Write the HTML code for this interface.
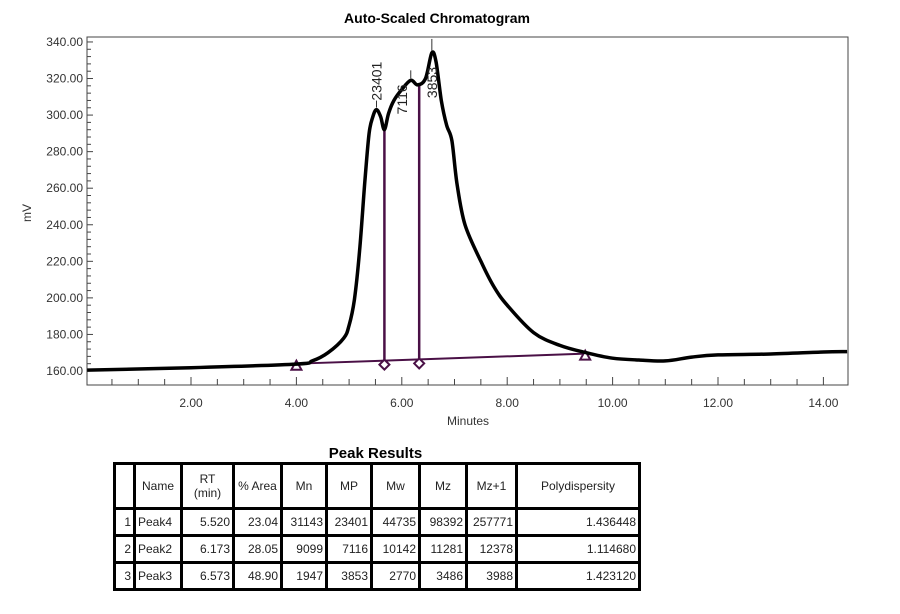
<!DOCTYPE html>
<html><head><meta charset="utf-8"><style>
body{margin:0;background:#fff;width:900px;height:614px;overflow:hidden;position:relative;font-family:"Liberation Sans",sans-serif}
svg{position:absolute;left:0;top:0}
#tbl-title{position:absolute;left:113px;width:525px;top:445px;text-align:center;font-weight:bold;font-size:15px}
table{position:absolute;left:113px;top:462px;width:525px;border-collapse:collapse;font-size:12px;table-layout:fixed}
td{border:3px solid #000;padding:0 2px;text-align:right;color:#222;white-space:nowrap;overflow:hidden}
tr.h td{text-align:center;height:42px;white-space:normal}
tr.r td{height:24px}
</style></head><body>
<svg width="900" height="614">
<text x="437" y="23" text-anchor="middle" font-weight="bold" font-size="14">Auto-Scaled Chromatogram</text>
<rect x="87" y="37" width="761" height="348" fill="none" stroke="#444" stroke-width="1"/>
<g id="axes"></g>
<g id="marks"></g>
<text x="468" y="425" text-anchor="middle" font-size="12" fill="#333">Minutes</text>
<text transform="translate(31,213) rotate(-90)" text-anchor="middle" font-size="12" fill="#333">mV</text>
</svg>
<div id="tbl-title">Peak Results</div>
<table>
<colgroup><col style="width:20px"><col style="width:47px"><col style="width:52px"><col style="width:48px"><col style="width:45px"><col style="width:45px"><col style="width:48px"><col style="width:47px"><col style="width:50px"><col style="width:123px"></colgroup>
<tr class="h"><td></td><td>Name</td><td>RT<br>(min)</td><td style="white-space:nowrap">% Area</td><td>Mn</td><td>MP</td><td>Mw</td><td>Mz</td><td>Mz+1</td><td>Polydispersity</td></tr>
<tr class="r"><td>1</td><td style="text-align:left">Peak4</td><td>5.520</td><td>23.04</td><td>31143</td><td>23401</td><td>44735</td><td>98392</td><td>257771</td><td>1.436448</td></tr>
<tr class="r"><td>2</td><td style="text-align:left">Peak2</td><td>6.173</td><td>28.05</td><td>9099</td><td>7116</td><td>10142</td><td>11281</td><td>12378</td><td>1.114680</td></tr>
<tr class="r" style="height:27px"><td>3</td><td style="text-align:left">Peak3</td><td>6.573</td><td>48.90</td><td>1947</td><td>3853</td><td>2770</td><td>3486</td><td>3988</td><td>1.423120</td></tr>
</table>
<script>
const times=[0.03,2,4.0,4.3,4.6,4.9,5.0,5.1,5.2,5.3,5.38,5.45,5.52,5.6,5.67,5.75,5.85,6.0,6.17,6.3,6.45,6.57,6.65,6.75,6.85,6.95,7.05,7.2,7.5,7.75,8.0,8.5,9.0,9.5,10.0,10.5,11.0,11.5,12.0,13.0,14.0,14.45];
const signal=[160.5,161.8,163.8,165.5,170,178,185,199,226,264,290,299,303,299,292,301,308,314,319,316.5,320,334,329,308,294.5,286,262,240,220,206,196,181,174,170,167,166,165.5,167.6,168.8,169.3,170.4,170.6];
const baseline=[[4.0,164],[9.48,169.5]];
const dropTimes=[5.67,6.33];
const dropTops=[292,316.5];
const peakRT=[5.52,6.17,6.57];
const peakTop=[303,319,334];
const peakLabels=["23401","7116","3853"];
const yTicks=[160,180,200,220,240,260,280,300,320,340];
const xTicks=[2,4,6,8,10,12,14];
const X=t=>85.6+t*52.7, Y=v=>371-(v-160)*1.828;
const NS="http://www.w3.org/2000/svg";
function mk(tag,attrs,parent){const e=document.createElementNS(NS,tag);for(const k in attrs)e.setAttribute(k,attrs[k]);parent.appendChild(e);return e;}
const ax=document.getElementById('axes'), mg=document.getElementById('marks');
for(let v=160;v<=340;v+=4){const l=mk('line',{x1:87,x2:v%20==0?93:91,y1:Y(v),y2:Y(v),stroke:'#444'},ax);

}
yTicks.forEach(v=>{const t=mk('text',{x:83,y:Y(v)+4,'text-anchor':'end','font-size':12,fill:'#333'},ax);t.textContent=v.toFixed(2);

});
for(let m=0.5;m<=14.4;m+=0.5){const l=mk('line',{x1:X(m),x2:X(m),y1:385,y2:Number.isInteger(m)&&m%2==0?377:379,stroke:'#444'},ax);

}
xTicks.forEach(m=>{const t=mk('text',{x:X(m),y:407,'text-anchor':'middle','font-size':12,fill:'#333'},ax);t.textContent=m.toFixed(2);

});
const bl=mk('line',{x1:X(baseline[0][0]),y1:Y(baseline[0][1]),x2:X(baseline[1][0]),y2:Y(baseline[1][1]),stroke:'#4a1046','stroke-width':2},mg);


const bAt=t=>baseline[0][1]+(t-baseline[0][0])*(baseline[1][1]-baseline[0][1])/(baseline[1][0]-baseline[0][0]);
dropTimes.forEach((t,i)=>{const l=mk('line',{x1:X(t),x2:X(t),y1:Y(bAt(t)),y2:Y(dropTops[i]),stroke:'#4a1046','stroke-width':2.5},mg);


const d=mk('path',{d:`M${X(t)} ${Y(bAt(t))-1} l5 5 l-5 5 l-5 -5 z`,fill:'#fff',stroke:'#4a1046','stroke-width':2},mg);

});
[baseline[0],baseline[1]].forEach(p=>{const x=X(p[0]),y=Y(p[1])+1;const tr=mk('path',{d:`M${x} ${y-4} l5 9 h-10 z`,fill:'#fff',stroke:'#4a1046','stroke-width':2},mg);

});
const P=times.map((t,i)=>[X(t),Y(signal[i])]);
let d='M'+P[0][0].toFixed(1)+' '+P[0][1].toFixed(1);
for(let i=0;i<P.length-1;i++){const p0=P[i-1]||P[i],p1=P[i],p2=P[i+1],p3=P[i+2]||P[i+1];
const c1=[p1[0]+(p2[0]-p0[0])/6,p1[1]+(p2[1]-p0[1])/6],c2=[p2[0]-(p3[0]-p1[0])/6,p2[1]-(p3[1]-p1[1])/6];
d+=` C${c1[0].toFixed(1)} ${c1[1].toFixed(1)} ${c2[0].toFixed(1)} ${c2[1].toFixed(1)} ${p2[0].toFixed(1)} ${p2[1].toFixed(1)}`;}
const tr=mk('path',{d:d,fill:'none',stroke:'#000','stroke-width':3.5,'stroke-linejoin':'round'},mg);


const offs=[[-7,'start'],[4,'end'],[14,'end']];
peakRT.forEach((t,i)=>{const x=X(t),y=Y(peakTop[i]);
const tk=mk('line',{x1:x,x2:x,y1:y-2,y2:y-(i==0?9:i==1?10:14),stroke:'#333'},mg);


const ty=i==0?y-9:y+offs[i][0];
const tx=mk('text',{transform:`translate(${x+(i==0?5:i==1?-4:5)},${ty}) rotate(-90)`,'text-anchor':offs[i][1],'font-size':14,fill:'#222'},mg);
tx.textContent=peakLabels[i];

});
</script>
</body></html>
